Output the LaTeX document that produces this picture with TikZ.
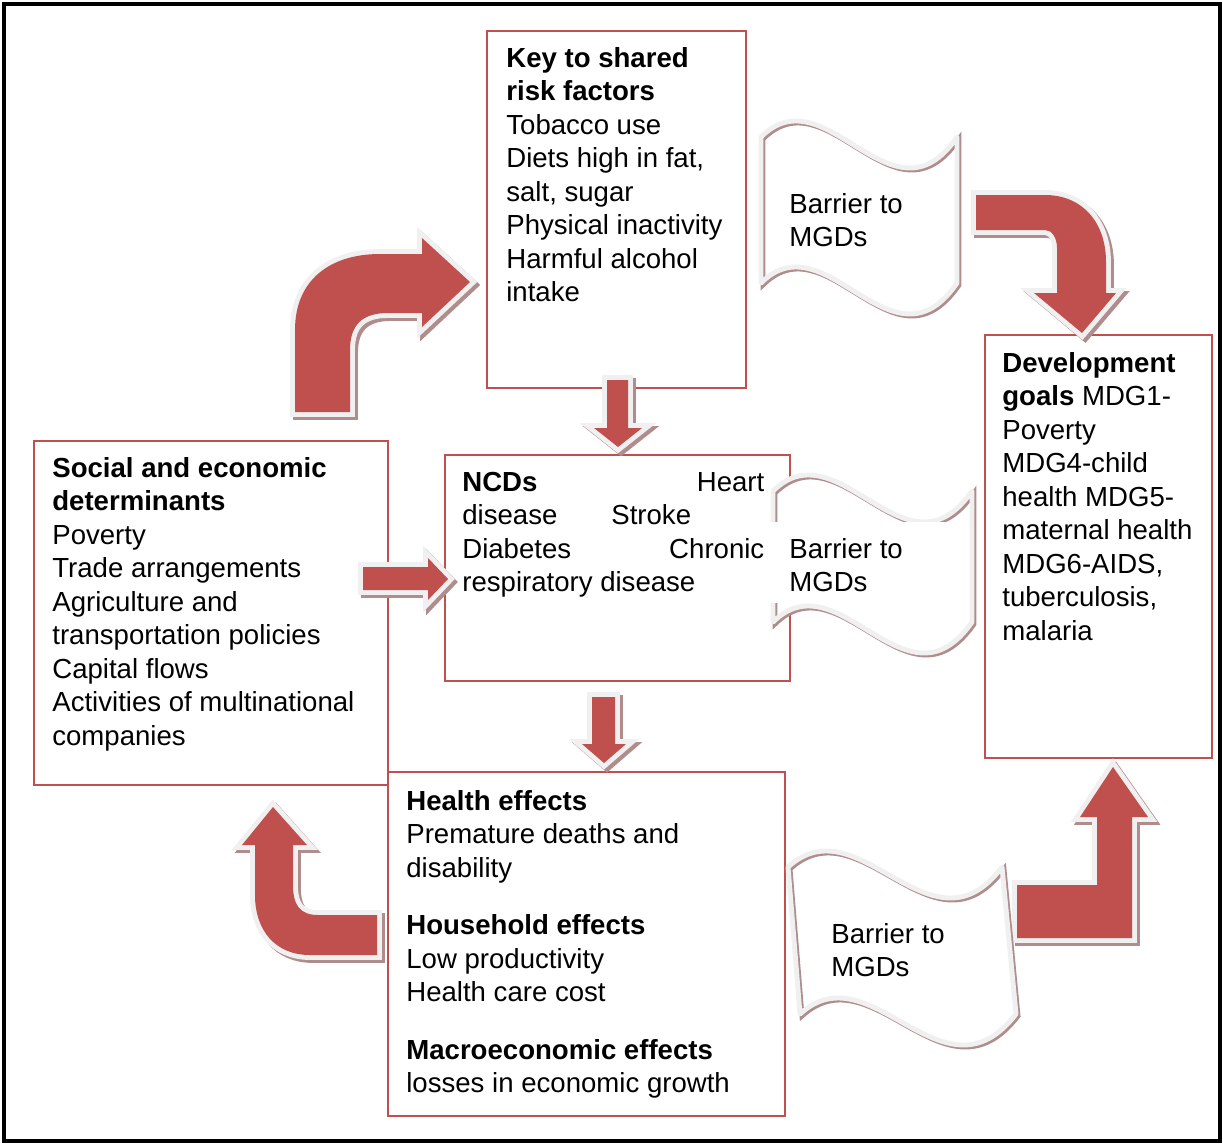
\documentclass[tikz,border=0pt]{standalone}
\usepackage{fontspec}
\setmainfont{Liberation Sans}
\usetikzlibrary{fit}
\definecolor{boxred}{HTML}{C0504D}
\definecolor{rimgray}{HTML}{F0F0F0}
\definecolor{shadowbrown}{HTML}{B08C8C}
\tikzset{
  redbox/.style={draw=boxred, line width=1.2pt, inner sep=0pt},
  txt/.style={anchor=base west, inner sep=0pt, font=\fontsize{15.7}{19.1}\selectfont},
  blockarrow/.style={fill=boxred, line join=round,
    preaction={draw=shadowbrown, fill=shadowbrown, line width=5.6pt, transform canvas={shift={(3,3)}}},
    preaction={draw=rimgray, line width=5.6pt}},
  barrier/.style={line join=round, preaction={fill=white},
    preaction={draw=shadowbrown, line width=2.8pt, transform canvas={shift={(2,2)}}},
    draw=rimgray, line width=2.8pt}
}
\begin{document}
\begin{tikzpicture}[x=0.02cm, y=-0.02cm]
\useasboundingbox (0,0) rectangle (1223,1144);
\def\TW{7cm}
	\draw[line width=2.3pt] (4,4) rectangle (1220,1141);
	\node[redbox, fit={(487,31) (746,388)}] (keybox) {};
	\node[redbox, fit={(985,335) (1212,758)}] (goalbox) {};
	\node[redbox, fit={(34,441) (388,785)}] (socialbox) {};
	\node[redbox, fit={(445,455) (790,681)}] (ncdbox) {};
	\node[redbox, fit={(388,772) (785,1116)}] (effectbox) {};

	\node[txt] (keytext) at (506,67) {\parbox[t]{\TW}{\textbf{Key to shared}\\\textbf{risk factors}\\Tobacco use\\Diets high in fat,\\salt, sugar\\Physical inactivity\\Harmful alcohol\\intake}};
	\node[txt] (socialtext) at (52,477) {\parbox[t]{\TW}{\textbf{Social and economic}\\\textbf{determinants}\\Poverty\\Trade arrangements\\Agriculture and\\transportation policies\\Capital flows\\Activities of multinational\\companies}};
	\node[txt] (ncdtext) at (462,491) {\parbox[t]{6.04cm}{\textbf{NCDs}\hfill Heart\\disease\hspace{1.08cm}Stroke\\Diabetes\hfill Chronic\\respiratory disease}};
	\node[txt] (effecttext) at (406,810) {\parbox[t]{\TW}{\textbf{Health effects}\\Premature deaths and\\disability\\[13.6pt]\textbf{Household effects}\\Low productivity\\Health care cost\\[13.6pt]\textbf{Macroeconomic effects}\\losses in economic growth}};
	\node[txt] (goaltext) at (1002,372) {\parbox[t]{\TW}{\textbf{Development}\\\textbf{goals} MDG1-\\Poverty\\MDG4-child\\health MDG5-\\maternal health\\MDG6-AIDS,\\tuberculosis,\\malaria}};

	\fill[blockarrow] (295,412) -- (295,330) .. controls (295,280) and (330,254) .. (380,254) -- (422,254) -- (422,238) -- (470,282) -- (422,327) -- (422,313) -- (388,313) .. controls (362,313) and (350,325) .. (350,350) -- (350,412) -- cycle;
	\fill[blockarrow] (976,195) -- (1045,195) .. controls (1082,195) and (1106,222) .. (1106,262) -- (1106,293) -- (1116,293) -- (1082,333) -- (1034,293) -- (1057,293) -- (1057,248) .. controls (1057,238) and (1052,230) .. (1045,230) -- (976,230) -- cycle;
	\fill[blockarrow] (607,380) -- (628,380) -- (628,428) -- (642,428) -- (618,447) -- (594,428) -- (607,428) -- cycle;
	\fill[blockarrow] (363,567) -- (428,567) -- (428,558) -- (448,579) -- (428,600) -- (428,590) -- (363,590) -- cycle;
	\fill[blockarrow] (592,697) -- (615,697) -- (615,744) -- (626,744) -- (604,763) -- (582,744) -- (592,744) -- cycle;
	\fill[blockarrow] (377,915) -- (318,915) .. controls (300,915) and (293,905) .. (293,885) -- (293,845) -- (307,845) -- (273,807) -- (242,845) -- (255,845) -- (255,895) .. controls (255,930) and (275,955) .. (310,955) -- (377,955) -- cycle;
	\fill[blockarrow] (1017,885) -- (1097,885) -- (1097,817) -- (1080,817) -- (1113,767) -- (1148,817) -- (1132,817) -- (1132,938) -- (1017,938) -- cycle;

	\draw[barrier] (761,137) .. controls (826,72) and (892,232) .. (957,137) -- (957,283) .. controls (892,378) and (826,218) .. (761,283) -- cycle;
	\draw[barrier] (773,491) .. controls (839,426) and (906,586) .. (972,491) -- (972,622) .. controls (906,717) and (839,557) .. (773,622) -- cycle;
	\draw[barrier] (788,867) .. controls (859,802) and (931,962) .. (1002,867) -- (1016,1014) .. controls (943,1109) and (871,949) .. (800,1014) -- cycle;
	\fill[white] (766,522) rectangle (962,603);

	\node[txt] (barrierone) at (789,213) {\parbox[t]{3cm}{Barrier to\\MGDs}};
	\node[txt] (barriertwo) at (789,558) {\parbox[t]{3cm}{Barrier to\\MGDs}};
	\node[txt] (barrierthree) at (831,943) {\parbox[t]{3cm}{Barrier to\\MGDs}};
\end{tikzpicture}
\end{document}
